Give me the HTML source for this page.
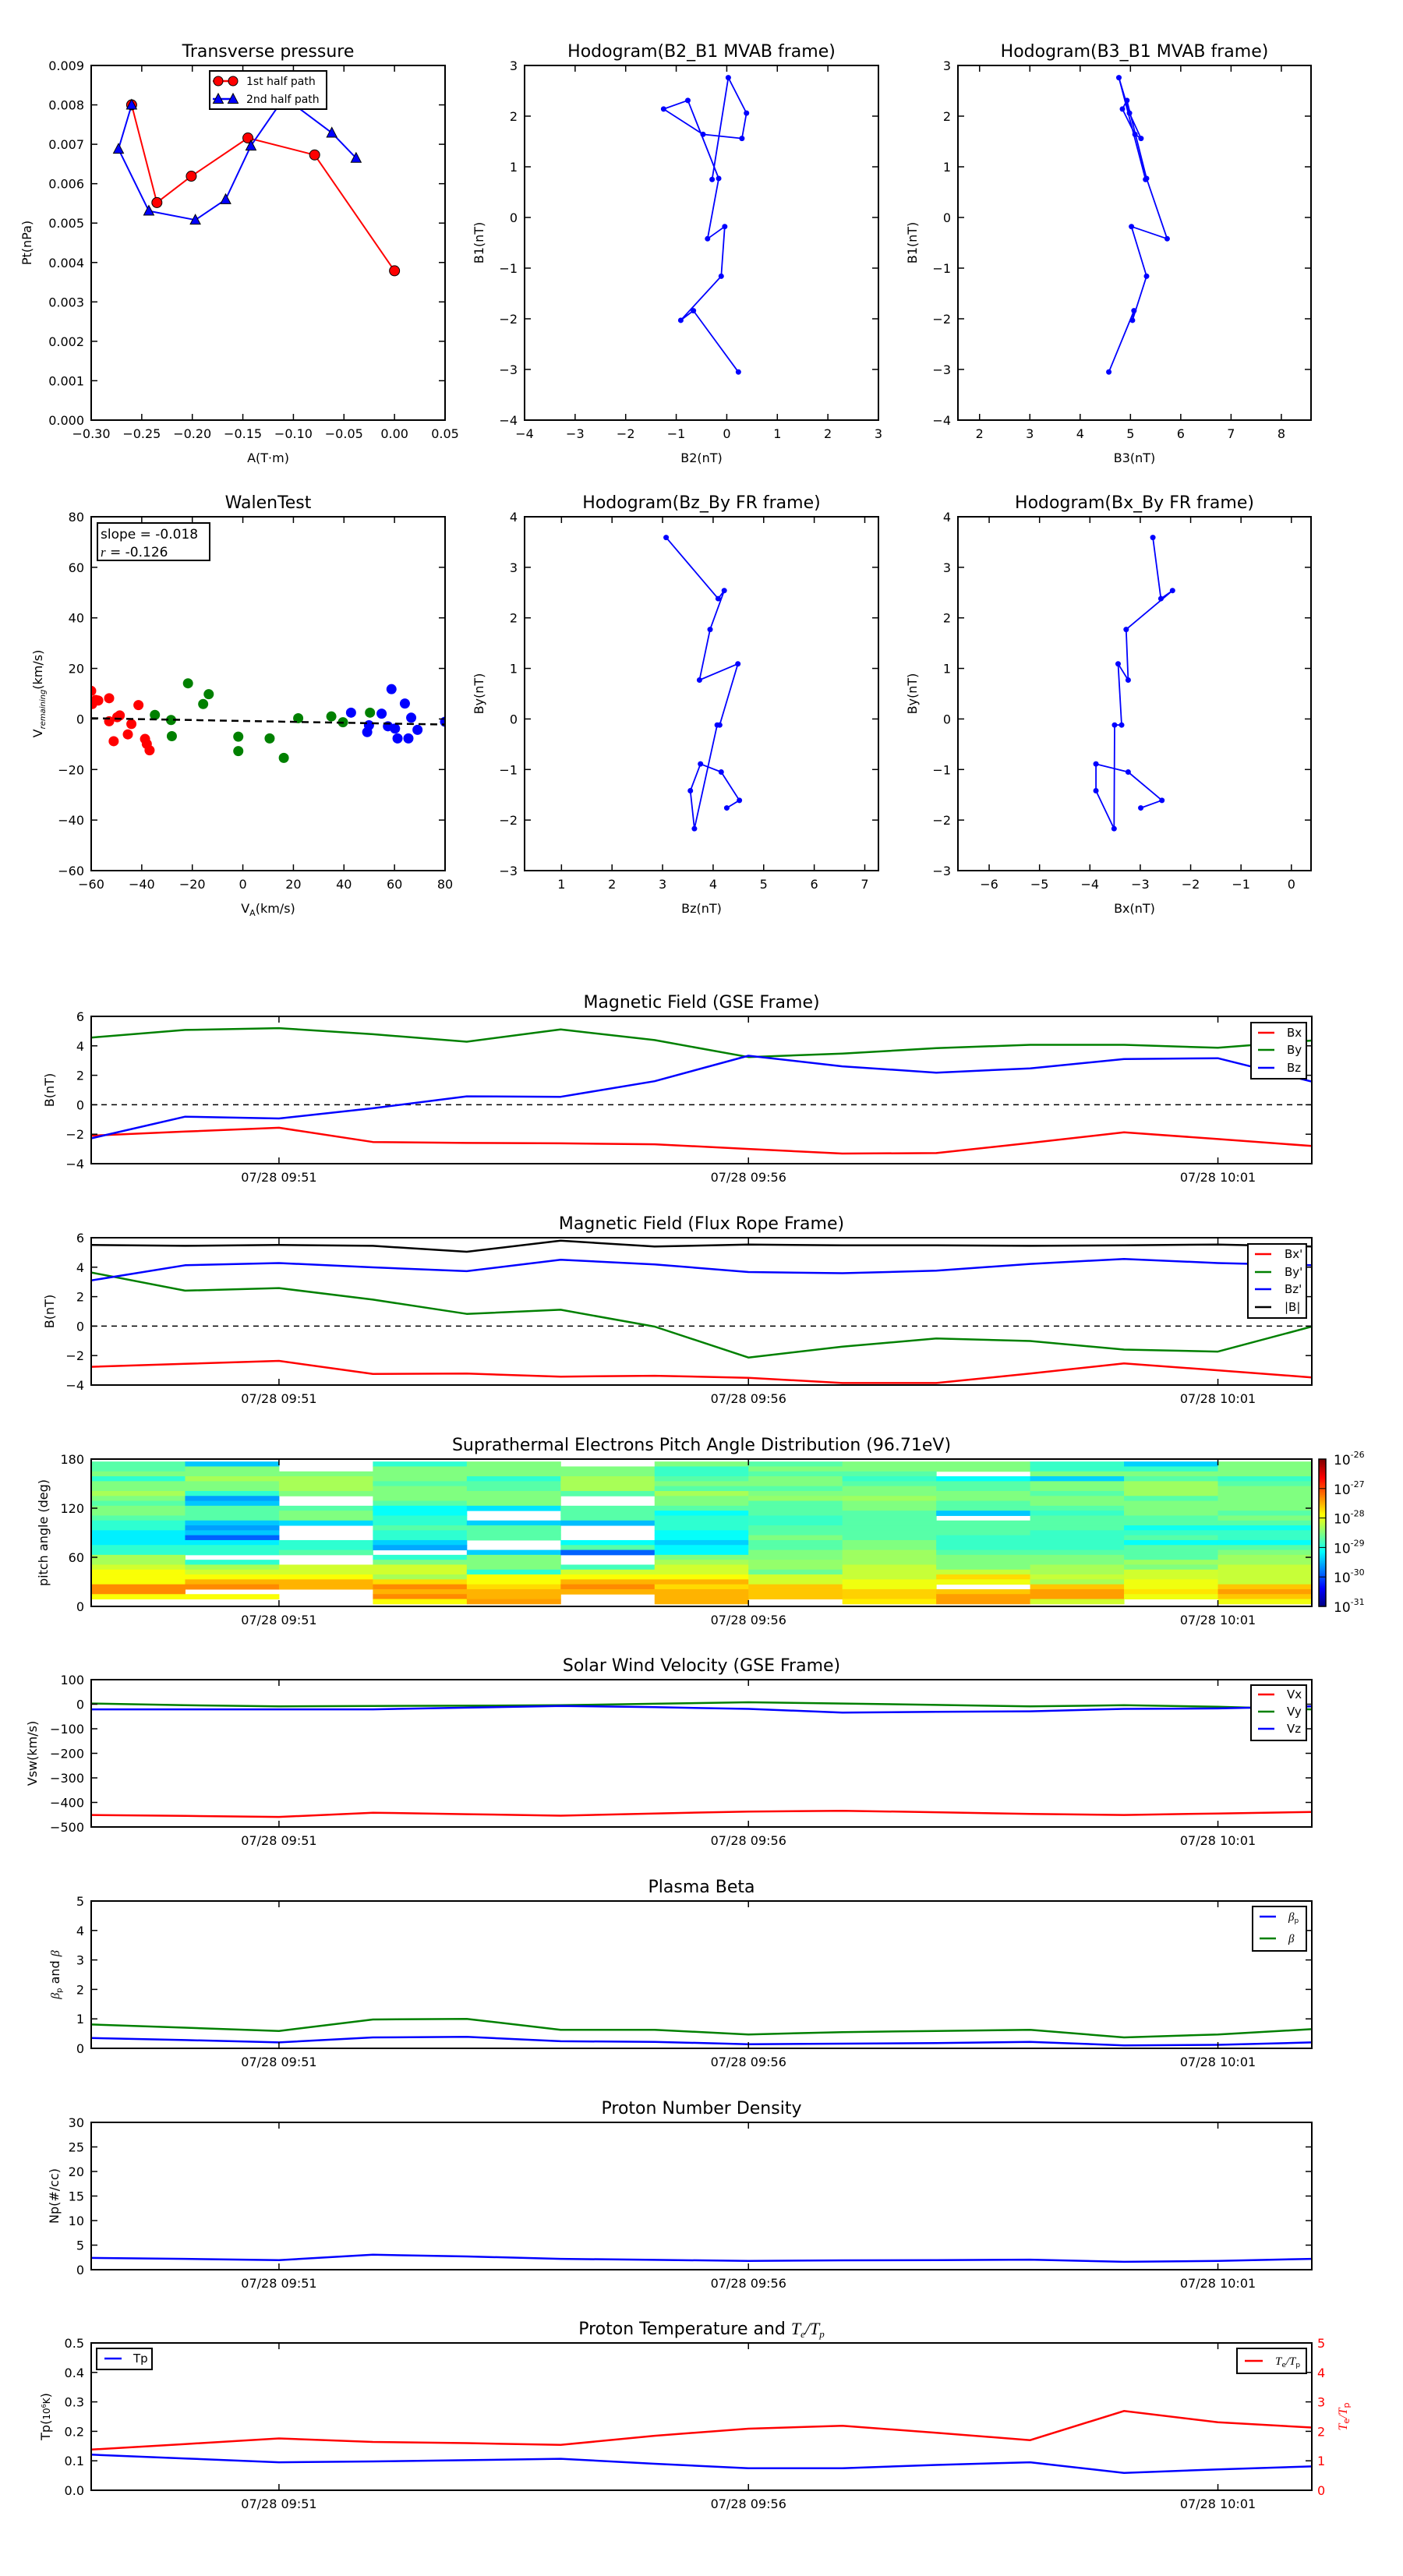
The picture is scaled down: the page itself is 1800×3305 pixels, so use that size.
<!DOCTYPE html>
<html><head><meta charset="utf-8">
<style>
html,body{margin:0;padding:0;background:#fff}
svg text{font-family:"DejaVu Sans","Liberation Sans",sans-serif;fill:#000}
</style></head>
<body>
<svg id="fig" xmlns="http://www.w3.org/2000/svg" width="1800" height="3300" viewBox="0 0 1800 3300"><defs id="defs"></defs><rect width="1800" height="3300" fill="#fff"/></svg>
<script>
// ---------------- DATA ----------------
const tpA1=[-0.260,-0.235,-0.201,-0.145,-0.079,0.000];
const tpP1=[0.00800,0.00552,0.00619,0.00716,0.00673,0.00379];
const tpA2=[-0.260,-0.273,-0.243,-0.197,-0.167,-0.142,-0.109,-0.062,-0.038];
const tpP2=[0.00800,0.00688,0.00531,0.00508,0.00560,0.00696,0.00819,0.00729,0.00665];

const mvB1=[-3.05,-1.84,-2.03,-1.16,-0.18,-0.42,0.77,2.31,2.14,1.64,1.56,2.06,2.76,0.75];
const mvB2=[0.23,-0.66,-0.91,-0.11,-0.04,-0.38,-0.16,-0.77,-1.25,-0.47,0.30,0.39,0.03,-0.29];
const mvB3=[4.57,5.07,5.04,5.32,5.02,5.73,5.32,4.93,4.84,5.09,5.21,4.98,4.77,5.30];

const hBy=[3.59,2.38,2.54,1.77,0.77,1.09,-0.12,-0.12,-2.17,-1.42,-0.89,-1.05,-1.61,-1.76];
const hBz=[3.07,4.10,4.22,3.94,3.73,4.49,4.13,4.08,3.63,3.55,3.75,4.16,4.52,4.27];
const hBx=[-2.75,-2.59,-2.36,-3.28,-3.24,-3.44,-3.37,-3.51,-3.52,-3.88,-3.88,-3.24,-2.57,-2.99];

const walRedX=[-60,-59.6,-58.2,-57.2,-52.9,-52.9,-51.1,-49.7,-48.7,-45.5,-44.1,-41.3,-38.7,-38.0,-36.9];
const walRedY=[11.1,5.9,7.5,7.3,8.2,-0.9,-8.8,0.7,1.4,-6.1,-2.0,5.5,-7.9,-9.9,-12.4];
const walGreenX=[-34.8,-28.4,-28.1,-21.7,-15.7,-13.5,-1.8,-1.8,10.6,16.2,21.9,35.0,39.6,50.3];
const walGreenY=[1.6,-0.4,-6.8,14.1,5.9,9.8,-7.0,-12.7,-7.7,-15.4,0.3,1.0,-1.3,2.5];
const walBlueX=[42.8,49.2,49.9,54.9,57.4,58.8,60.2,61.2,64.1,65.5,66.6,69.1,80];
const walBlueY=[2.5,-5.2,-2.5,2.1,-2.9,11.8,-3.8,-7.7,6.1,-7.7,0.5,-4.3,-1.1];
const walSlope=-0.018, walIntercept=-0.78;

const minutes=[0,1,2,3,4,5,6,7,8,9,10,11,12,13];
const timeTickMin=[2,7,12];
const timeTickLabels=["07/28 09:51","07/28 09:56","07/28 10:01"];

const gseBx=[-2.10,-1.82,-1.56,-2.53,-2.59,-2.62,-2.68,-3.00,-3.31,-3.28,-2.59,-1.87,-2.33,-2.80];
const gseBy=[4.56,5.08,5.20,4.79,4.28,5.11,4.39,3.24,3.47,3.84,4.07,4.07,3.87,4.36];
const gseBz=[-2.28,-0.81,-0.93,-0.24,0.57,0.54,1.60,3.33,2.61,2.18,2.47,3.10,3.16,1.57];
const frBx=[-2.76,-2.56,-2.36,-3.25,-3.22,-3.43,-3.37,-3.51,-3.86,-3.86,-3.22,-2.53,-3.00,-3.48];
const frBy=[3.64,2.41,2.58,1.80,0.83,1.11,-0.03,-2.13,-1.39,-0.84,-1.01,-1.59,-1.73,-0.03];
const frBz=[3.10,4.13,4.28,3.99,3.73,4.51,4.19,3.67,3.59,3.76,4.22,4.56,4.28,4.13];
const frBt=[5.51,5.45,5.51,5.45,5.05,5.80,5.40,5.54,5.48,5.48,5.45,5.48,5.54,5.40];
const vx=[-451,-455,-459,-442,-448,-454,-445,-437,-434,-440,-447,-451,-445,-439];
const vy=[3,-4,-9,-7,-6,-4,2,8,3,-3,-9,-4,-10,-21];
const vz=[-21,-21,-21,-21,-14,-7,-12,-19,-34,-31,-29,-19,-17,-9];
const beta=[0.81,0.70,0.59,0.98,1.00,0.63,0.63,0.47,0.55,0.59,0.63,0.37,0.47,0.65];
const betap=[0.35,0.28,0.20,0.37,0.39,0.24,0.22,0.14,0.16,0.18,0.22,0.10,0.12,0.20];
const npd=[2.4,2.2,1.95,3.05,2.7,2.2,2.0,1.8,1.9,1.95,2.05,1.6,1.8,2.2];
const tpT=[0.121,0.108,0.095,0.098,0.102,0.107,0.090,0.075,0.075,0.086,0.095,0.059,0.071,0.081];
const teTp=[1.38,1.57,1.76,1.64,1.60,1.54,1.85,2.09,2.19,1.95,1.70,2.69,2.31,2.13];

const padAngles=[174,168,162,156,150,144,138,132,126,120,114,108,102,96,90,84,78,72,66,60,54,48,42,36,30,24,18,12,6];
const padCol0=[-28.7,-28.7,-28.5,-28.9,-28.5,-28.5,-28.3,-28.5,-28.7,-28.5,-28.5,-28.7,-28.9,-28.9,-29.2,-29.2,-29.2,-28.9,-28.9,-28.3,-28.3,-28.1,-27.9,-27.9,-27.9,-27.3,-27.3,-27.9,null];
const padCol1=[-29.4,-28.5,-28.5,-28.3,-28.5,-28.5,-28.9,-29.6,-29.4,-28.7,-28.7,-28.7,-29.4,-29.6,-29.4,-29.9,-29.2,-28.9,-28.9,null,-28.9,-28.3,-28.1,-27.9,-27.5,-27.3,null,-27.9,null];
const padCol2=[null,null,-28.5,-28.3,-28.3,-28.3,-28.5,null,null,-28.7,-28.5,-28.5,-29.3,null,null,null,-28.9,-28.9,-28.7,null,null,-28.1,-28.1,-27.9,-27.5,-27.5,null,null,null];
const padCol3=[-28.9,-28.5,-28.5,-28.5,-28.7,-28.5,-28.5,-28.5,-28.7,-29.1,-29.1,-28.9,-28.9,-28.7,-28.9,-28.9,-29.35,-29.55,null,-28.9,-28.5,-28.1,-28.1,-28.3,-27.7,-27.3,-27.5,-27.3,-27.9];
const padCol4=[-28.5,-28.5,-28.5,-28.9,-28.7,-28.7,-28.5,-28.5,-28.5,-29.25,null,null,-29.35,-28.7,-28.7,-28.7,null,null,-29.35,-28.5,-28.5,-28.5,-28.9,-27.9,-27.9,-27.7,-27.5,-27.5,-27.4];
const padCol5=[null,-28.5,-28.5,-28.3,-28.3,-28.3,-28.7,null,null,-28.7,-28.7,-28.7,-29.45,null,null,null,-29.1,-28.7,-29.9,null,null,-28.8,-28.1,-27.9,-27.5,-27.3,-27.5,null,null];
const padCol6=[-28.5,-28.85,-28.85,-28.7,-28.5,-28.7,-28.3,-28.5,-28.5,-28.7,-29.1,-28.9,-28.9,-28.9,-29.1,-29.1,-29.35,-29.15,-29.15,-28.5,-28.3,-28.1,-28.1,-27.9,-27.5,-27.7,-27.5,-27.5,-27.5];
const padCol7=[-28.7,-28.5,-28.7,-28.5,-28.5,-28.7,-28.5,-28.4,-28.7,-28.7,-28.7,-28.85,-28.85,-28.7,-28.7,-28.5,-28.7,-28.7,-28.5,-28.5,-28.4,-28.4,-28.6,-28.1,-28.1,-27.6,-27.6,-27.6,null];
const padCol8=[-28.5,-28.5,-28.7,-28.85,-28.7,-28.5,-28.5,-28.35,-28.5,-28.5,-28.7,-28.7,-28.7,-28.7,-28.7,-28.7,-28.5,-28.5,-28.35,-28.35,-28.35,-28.15,-28.15,-28.15,-27.95,-27.95,-27.65,-27.65,-27.8];
const padCol9=[-28.5,-28.5,null,-29.1,-28.7,-28.7,-28.5,-28.5,-28.7,-28.7,-29.4,null,-28.7,-28.7,-28.7,-28.85,-28.85,-28.85,-28.7,-28.5,-28.5,-28.5,-28.15,-27.7,-27.95,null,-27.6,-27.4,-27.4];
const padCol10=[-28.85,-28.85,-28.5,-29.35,-28.5,-28.5,-28.7,-28.5,-28.5,-28.7,-28.85,-28.7,-28.7,-28.7,-28.85,-28.85,-28.85,-28.85,-28.7,-28.5,-28.5,-28.3,-28.3,-28.15,-28.3,-27.6,-27.4,-27.4,-28.1];
const padCol11=[-29.35,-28.85,-28.5,-28.7,-28.35,-28.35,-28.35,-28.7,-28.5,-28.5,-28.5,-28.7,-28.7,-29.05,-28.85,-28.7,-29.1,-28.7,-28.7,-28.7,-28.35,-28.5,-28.1,-28.1,-27.95,-27.95,-27.75,-27.95,null];
const padCol12=[-28.5,-28.5,-28.5,-28.85,-28.7,-28.5,-28.5,-28.5,-28.5,-28.5,-28.7,-28.5,-28.7,-29.05,-28.85,-28.85,-29.1,-28.7,-28.5,-28.35,-28.35,-28.15,-28.15,-28.15,-28.15,-27.6,-27.4,-27.6,-27.95];
const padCols=[padCol0,padCol1,padCol2,padCol3,padCol4,padCol5,padCol6,padCol7,padCol8,padCol9,padCol10,padCol11,padCol12];
const cbDecades=[-31,-30,-29,-28,-27,-26];

// ---------------- HELPERS ----------------
const svg=document.getElementById('fig');
const defs=document.getElementById('defs');
const NS='http://www.w3.org/2000/svg';
function mk(tag,attrs,parent){const e=document.createElementNS(NS,tag);for(const k in attrs)e.setAttribute(k,attrs[k]);(parent||svg).appendChild(e);return e;}
function fmt(v,d){const s=Math.abs(v).toFixed(d);return (v<-1e-12?'\u2212':'')+s;}
function txt(parent,s,x,y,size,anchor,name,fill){
  const t=mk('text',{x:x,y:y,'font-size':size,'text-anchor':anchor},parent);
  if(fill)t.setAttribute('style','fill:'+fill);
  t.textContent=s;
  
  
  return t;
}
function panel(name,box,xd,yd){
  const g=mk('g',{});
  
  
  const id='clip-'+name;
  const cp=mk('clipPath',{id:id},defs);
  mk('rect',{x:box[0],y:box[2],width:box[1]-box[0],height:box[3]-box[2]},cp);
  const plot=mk('g',{'clip-path':'url(#'+id+')'},g);
  const sx=v=>box[0]+(v-xd[0])/(xd[1]-xd[0])*(box[1]-box[0]);
  const sy=v=>box[3]-(v-yd[0])/(yd[1]-yd[0])*(box[3]-box[2]);
  return {g,plot,sx,sy,box,name};
}
function frame(P,xt,xl,yt,yl,noRight){
  const [x0,x1,y0,y1]=P.box, L=8;
  const tg=mk('g',{stroke:'#000','stroke-width':1.5},P.g);
  xt.forEach((v,i)=>{const x=P.sx(v);
    mk('line',{x1:x,y1:y1,x2:x,y2:y1-L},tg);mk('line',{x1:x,y1:y0,x2:x,y2:y0+L},tg);
    if(xl)txt(P.g,xl[i],x,y1+23,16,'middle',P.name+'-x-tick-label');});
  yt.forEach((v,i)=>{const y=P.sy(v);
    mk('line',{x1:x0,y1:y,x2:x0+L,y2:y},tg);
    if(!noRight)mk('line',{x1:x1,y1:y,x2:x1-L,y2:y},tg);
    txt(P.g,yl[i],x0-9,y+6,16,'end',P.name+'-y-tick-label');});
  const f=mk('rect',{x:x0,y:y0,width:x1-x0,height:y1-y0,fill:'none',stroke:'#000','stroke-width':2},P.g);
  
  
}
function title(P,s){const t=txt(P.g,s,(P.box[0]+P.box[1])/2,P.box[2]-11,22,'middle',P.name+'-title');return t;}
function ylabel(P,s,cx,name){const cy=(P.box[2]+P.box[3])/2;const t=txt(P.g,s,cx+6,cy,16,'middle',name);t.setAttribute('transform','rotate(-90 '+(cx+6)+' '+cy+')');return t;}
function xlabel(P,s,name){return txt(P.g,s,(P.box[0]+P.box[1])/2,P.box[3]+54,16,'middle',name);}
function series(P,xs,ys,color,w,name,dash){
  const pts=xs.map((x,i)=>P.sx(x).toFixed(1)+','+P.sy(ys[i]).toFixed(1)).join(' ');
  const p=mk('polyline',{points:pts,fill:'none',stroke:color,'stroke-width':w,'stroke-linejoin':'round'},P.plot);
  if(dash)p.setAttribute('stroke-dasharray',dash);
  
  
  return p;
}
function dot(parent,x,y,r,fill,name,stroke){
  const c=mk('circle',{cx:x,cy:y,r:r,fill:fill},parent);
  if(stroke){c.setAttribute('stroke',stroke);c.setAttribute('stroke-width',1);}
  
  
  return c;
}
function tri(parent,x,y,name){
  const p=mk('polygon',{points:(x-6.5)+','+(y+5.5)+' '+(x+6.5)+','+(y+5.5)+' '+x+','+(y-7),fill:'#0000ff',stroke:'#000','stroke-width':1},parent);
  
  
  return p;
}
function legend(parent,name,bx,by,bw,bh,entries){
  const g=mk('g',{},parent);
  
  
  mk('rect',{x:bx,y:by,width:bw,height:bh,fill:'#fff',stroke:'#000','stroke-width':2},g);
  entries.forEach(e=>{
    mk('line',{x1:e.lx1,y1:e.y,x2:e.lx2,y2:e.y,stroke:e.c,'stroke-width':2.5},g);
    const t=txt(g,'',e.tx,e.y+5,e.fs||15,'start',name+'-label');
    if(e.html)t.innerHTML=e.html;else t.textContent=e.t;
  });
  return g;
}
const ticks=(a,b,s)=>{const r=[];for(let v=a;v<=b+1e-9;v+=s)r.push(+v.toFixed(6));return r;};

// ---------------- ROW 1 ----------------
const R1=[84,539], R2=[663,1117];
const C1=[117,571], C2=[673,1127], C3=[1229,1682];

// Transverse pressure
{
const P=panel('transverse-pressure-chart',[C1[0],C1[1],R1[0],R1[1]],[-0.30,0.05],[0,0.009]);
series(P,tpA1,tpP1,'#ff0000',2,'first-half-line');
series(P,tpA2,tpP2,'#0000ff',2,'second-half-line');
tpA1.forEach((a,i)=>dot(P.plot,P.sx(a),P.sy(tpP1[i]),6.5,'#ff0000','first-half-marker','#000'));
tpA2.forEach((a,i)=>tri(P.plot,P.sx(a),P.sy(tpP2[i]),'second-half-marker'));
const xt=ticks(-0.30,0.05,0.05), yt=ticks(0,0.009,0.001);
frame(P,xt,xt.map(v=>fmt(v,2)),yt,yt.map(v=>fmt(v,3)));
title(P,'Transverse pressure');
ylabel(P,'Pt(nPa)',C1[0]-83,'pt-y-axis-title');
xlabel(P,'A(T\u00b7m)','a-x-axis-title');
const lg=legend(P.g,'pressure-legend',269,91,150,49,[
 {y:104,lx1:273,lx2:300,c:'#ff0000',tx:316,t:'1st half path',fs:14},
 {y:127,lx1:273,lx2:300,c:'#0000ff',tx:316,t:'2nd half path',fs:14}]);
dot(lg,280,104,6,'#ff0000','legend-marker','#000');dot(lg,299,104,6,'#ff0000','legend-marker','#000');
tri(lg,280,127,'legend-marker');tri(lg,299,127,'legend-marker');
}
function hodo(name,col,row,xd,yd,xs,ys,xt,yt,ttl,xl,yl){
  const P=panel(name,[col[0],col[1],row[0],row[1]],xd,yd);
  series(P,xs,ys,'#0000ff',1.8,name+'-path');
  xs.forEach((x,i)=>dot(P.plot,P.sx(x),P.sy(ys[i]),3.5,'#0000ff',name+'-point'));
  frame(P,xt,xt.map(v=>fmt(v,0)),yt,yt.map(v=>fmt(v,0)));
  title(P,ttl);ylabel(P,yl,col[0]-59,name+'-y-axis-title');xlabel(P,xl,name+'-x-axis-title');
}
hodo('hodogram-b2-b1',C2,R1,[-4,3],[-4,3],mvB2,mvB1,ticks(-4,3,1),ticks(-4,3,1),'Hodogram(B2_B1 MVAB frame)','B2(nT)','B1(nT)');
hodo('hodogram-b3-b1',C3,R1,[1.57,8.59],[-4,3],mvB3,mvB1,ticks(2,8,1),ticks(-4,3,1),'Hodogram(B3_B1 MVAB frame)','B3(nT)','B1(nT)');
hodo('hodogram-bz-by',C2,R2,[0.27,7.27],[-3,4],hBz,hBy,ticks(1,7,1),ticks(-3,4,1),'Hodogram(Bz_By FR frame)','Bz(nT)','By(nT)');
hodo('hodogram-bx-by',C3,R2,[-6.62,0.39],[-3,4],hBx,hBy,ticks(-6,0,1),ticks(-3,4,1),'Hodogram(Bx_By FR frame)','Bx(nT)','By(nT)');

// Walen test
{
const P=panel('walen-test-chart',[C1[0],C1[1],R2[0],R2[1]],[-60,80],[-60,80]);
walRedX.forEach((x,i)=>dot(P.plot,P.sx(x),P.sy(walRedY[i]),6.5,'#ff0000','walen-red-point'));
walGreenX.forEach((x,i)=>dot(P.plot,P.sx(x),P.sy(walGreenY[i]),6.5,'#008000','walen-green-point'));
walBlueX.forEach((x,i)=>dot(P.plot,P.sx(x),P.sy(walBlueY[i]),6.5,'#0000ff','walen-blue-point'));
series(P,[-60,80],[walIntercept+walSlope*-60,walIntercept+walSlope*80],'#000',2.5,'walen-fit-line','9,6');
const t=ticks(-60,80,20);
frame(P,t,t.map(v=>fmt(v,0)),t,t.map(v=>fmt(v,0)));
title(P,'WalenTest');
const yl=ylabel(P,'',C1[0]-69,'walen-y-axis-title');
yl.innerHTML='V<tspan font-size="10" font-style="italic" dy="4">remaining</tspan><tspan dy="-4">(km/s)</tspan>';
const xl=xlabel(P,'','walen-x-axis-title');
xl.innerHTML='V<tspan font-size="11" dy="4">A</tspan><tspan dy="-4">(km/s)</tspan>';
const bx=mk('g',{},P.g);


mk('rect',{x:125,y:671,width:144,height:48,fill:'#fff',stroke:'#000','stroke-width':2},bx);
txt(bx,'slope = -0.018',129,691,17,'start','walen-slope-text');
const rt=txt(bx,'',129,714,17,'start','walen-r-text');
rt.innerHTML='<tspan font-style="italic" font-family="Liberation Serif">r</tspan> = -0.126';
}

// ---------------- TIME PANELS ----------------
const TX=[117,1683];
function tpanel(name,top,yd){return panel(name,[TX[0],TX[1],top,top+189],[0,13],yd);}
function tframe(P,yt,yl,noRight){frame(P,timeTickMin,timeTickLabels,yt,yl,noRight);}

// GSE
{
const P=tpanel('magnetic-field-gse-chart',1304,[-4,6]);
series(P,[0,13],[0,0],'#000',1.5,'zero-line','7,6');
series(P,minutes,gseBx,'#ff0000',2.5,'bx-line');
series(P,minutes,gseBy,'#008000',2.5,'by-line');
series(P,minutes,gseBz,'#0000ff',2.5,'bz-line');
const yt=ticks(-4,6,2);tframe(P,yt,yt.map(v=>fmt(v,0)));
title(P,'Magnetic Field (GSE Frame)');ylabel(P,'B(nT)',63,'gse-y-axis-title');
legend(P.g,'gse-legend',1605,1312,71,72,[
 {y:1325,lx1:1614,lx2:1635,c:'#ff0000',tx:1651,t:'Bx'},
 {y:1347,lx1:1614,lx2:1635,c:'#008000',tx:1651,t:'By'},
 {y:1370,lx1:1614,lx2:1635,c:'#0000ff',tx:1651,t:'Bz'}]);
}
// FR
{
const P=tpanel('magnetic-field-fr-chart',1588,[-4,6]);
series(P,[0,13],[0,0],'#000',1.5,'zero-line','7,6');
series(P,minutes,frBx,'#ff0000',2.5,'bx-prime-line');
series(P,minutes,frBy,'#008000',2.5,'by-prime-line');
series(P,minutes,frBz,'#0000ff',2.5,'bz-prime-line');
series(P,minutes,frBt,'#000000',2.5,'btotal-line');
const yt=ticks(-4,6,2);tframe(P,yt,yt.map(v=>fmt(v,0)));
title(P,'Magnetic Field (Flux Rope Frame)');ylabel(P,'B(nT)',63,'fr-y-axis-title');
legend(P.g,'fr-legend',1601,1596,75,95,[
 {y:1609,lx1:1610,lx2:1631,c:'#ff0000',tx:1648,t:"Bx'"},
 {y:1632,lx1:1610,lx2:1631,c:'#008000',tx:1648,t:"By'"},
 {y:1654,lx1:1610,lx2:1631,c:'#0000ff',tx:1648,t:"Bz'"},
 {y:1677,lx1:1610,lx2:1631,c:'#000000',tx:1648,t:'|B|'}]);
}
// PAD
function jet(v){const t=Math.max(0,Math.min(1,(v+31)/5));const c=x=>Math.round(255*Math.max(0,Math.min(1,x)));
 return 'rgb('+c(1.5-Math.abs(4*t-3))+','+c(1.5-Math.abs(4*t-2))+','+c(1.5-Math.abs(4*t-1))+')';}
{
const P=tpanel('pitch-angle-distribution-chart',1872,[0,180]);
padCols.forEach((col,i)=>col.forEach((v,j)=>{
  if(v===null)return;
  const a=padAngles[j];
  const r=mk('rect',{x:P.sx(minutes[i]),y:P.sy(a+3),width:P.sx(minutes[i]+1)-P.sx(minutes[i])+0.5,height:P.sy(a-3)-P.sy(a+3)+0.5,fill:jet(v)},P.plot);
  
  
}));
const yt=[0,60,120,180];tframe(P,yt,yt.map(String));
title(P,'Suprathermal Electrons Pitch Angle Distribution (96.71eV)');
ylabel(P,'pitch angle (deg)',55,'pad-y-axis-title');
// colorbar
const cb=mk('g',{});


const cy0=1872,cy1=2061,cx=1692,cw=9;
for(let k=0;k<100;k++){const v=-31+5*(k+0.5)/100;mk('rect',{x:cx,y:cy1-(k+1)*(cy1-cy0)/100,width:cw,height:(cy1-cy0)/100+0.6,fill:jet(v)},cb);}
mk('rect',{x:cx,y:cy0,width:cw,height:cy1-cy0,fill:'none',stroke:'#000','stroke-width':1.5},cb);
cbDecades.forEach(d=>{const y=cy1-(d+31)/5*(cy1-cy0);
  mk('line',{x1:cx,y1:y,x2:cx+cw,y2:y,stroke:'#000','stroke-width':1},cb);
  const t=txt(cb,'',1711,y+7,17,'start','colorbar-tick-label');
  t.innerHTML='10<tspan font-size="11" dy="-9">'+fmt(d,0).replace('\u2212','-')+'</tspan>';});
}
// SW velocity
{
const P=tpanel('solar-wind-velocity-chart',2155,[-500,100]);
series(P,minutes,vx,'#ff0000',2.5,'vx-line');
series(P,minutes,vy,'#008000',2.5,'vy-line');
series(P,minutes,vz,'#0000ff',2.5,'vz-line');
const yt=ticks(-500,100,100);tframe(P,yt,yt.map(v=>fmt(v,0)));
title(P,'Solar Wind Velocity (GSE Frame)');ylabel(P,'Vsw(km/s)',41,'vsw-y-axis-title');
legend(P.g,'velocity-legend',1605,2162,71,71,[
 {y:2174,lx1:1614,lx2:1635,c:'#ff0000',tx:1651,t:'Vx'},
 {y:2196,lx1:1614,lx2:1635,c:'#008000',tx:1651,t:'Vy'},
 {y:2218,lx1:1614,lx2:1635,c:'#0000ff',tx:1651,t:'Vz'}]);
}
// Beta
{
const P=tpanel('plasma-beta-chart',2439,[0,5]);
series(P,minutes,betap,'#0000ff',2.5,'beta-p-line');
series(P,minutes,beta,'#008000',2.5,'beta-line');
const yt=ticks(0,5,1);tframe(P,yt,yt.map(v=>fmt(v,0)));
title(P,'Plasma Beta');
const yl=ylabel(P,'',70,'beta-y-axis-title');
yl.innerHTML='<tspan font-style="italic" font-family="Liberation Serif">\u03b2</tspan><tspan font-size="10" dy="3">p</tspan><tspan dy="-3"> and </tspan><tspan font-style="italic" font-family="Liberation Serif">\u03b2</tspan>';
legend(P.g,'beta-legend',1607,2446,69,57,[
 {y:2459,lx1:1616,lx2:1637,c:'#0000ff',tx:1653,html:'<tspan font-style="italic" font-family="Liberation Serif">\u03b2</tspan><tspan font-size="9" dy="3">p</tspan>'},
 {y:2487,lx1:1616,lx2:1637,c:'#008000',tx:1653,html:'<tspan font-style="italic" font-family="Liberation Serif">\u03b2</tspan>'}]);
}
// Density
{
const P=tpanel('proton-density-chart',2723,[0,30]);
series(P,minutes,npd,'#0000ff',2.5,'np-line');
const yt=ticks(0,30,5);tframe(P,yt,yt.map(v=>fmt(v,0)));
title(P,'Proton Number Density');ylabel(P,'Np(#/cc)',69,'np-y-axis-title');
}
// Temperature
{
const P=tpanel('proton-temperature-chart',3006,[0,0.5]);
const sR=v=>P.box[3]-v/5*(P.box[3]-P.box[2]);
const ptsR=minutes.map((m,i)=>P.sx(m).toFixed(1)+','+sR(teTp[i]).toFixed(1)).join(' ');
const rl=mk('polyline',{points:ptsR,fill:'none',stroke:'#ff0000','stroke-width':2.5},P.plot);


series(P,minutes,tpT,'#0000ff',2.5,'tp-line');
const yt=ticks(0,0.5,0.1);tframe(P,yt,yt.map(v=>fmt(v,1)),true);
[0,1,2,3,4,5].forEach(v=>{const y=sR(v);mk('line',{x1:P.box[1],y1:y,x2:P.box[1]-8,y2:y,stroke:'#000','stroke-width':1.5},P.g);
  txt(P.g,String(v),P.box[1]+7,y+6,16,'start','right-y-tick-label','#ff0000');});
const tt=title(P,'');
tt.innerHTML='Proton Temperature and <tspan font-style="italic" font-family="Liberation Serif">T</tspan><tspan font-size="13" font-style="italic" font-family="Liberation Serif" dy="4">e</tspan><tspan font-style="italic" font-family="Liberation Serif" dy="-4">/T</tspan><tspan font-size="13" font-style="italic" font-family="Liberation Serif" dy="4">p</tspan>';
const yl=ylabel(P,'',58,'tp-y-axis-title');
yl.innerHTML='Tp(<tspan font-size="12">10</tspan><tspan font-size="8" dy="-5">6</tspan><tspan font-size="12" dy="5">K</tspan>)';
const cy=(P.box[2]+P.box[3])/2;
const rt=txt(P.g,'',1728,cy,16,'middle','te-tp-y-axis-title','#ff0000');
rt.setAttribute('transform','rotate(-90 1728 '+cy+')');
rt.innerHTML='<tspan font-style="italic" font-family="Liberation Serif">T</tspan><tspan font-size="11" dy="3">e</tspan><tspan dy="-3" font-style="italic" font-family="Liberation Serif">/T</tspan><tspan font-size="11" dy="3">p</tspan>';
legend(P.g,'tp-legend',124,3013,71,27,[{y:3026,lx1:134,lx2:156,c:'#0000ff',tx:171,t:'Tp'}]);
legend(P.g,'te-tp-legend',1587,3013,89,32,[{y:3029,lx1:1597,lx2:1620,c:'#ff0000',tx:1636,html:'<tspan font-style="italic" font-family="Liberation Serif">T</tspan><tspan font-size="9" dy="3">e</tspan><tspan dy="-3" font-style="italic" font-family="Liberation Serif">/T</tspan><tspan font-size="9" dy="3">p</tspan>'}]);
}
</script>
</body></html>
